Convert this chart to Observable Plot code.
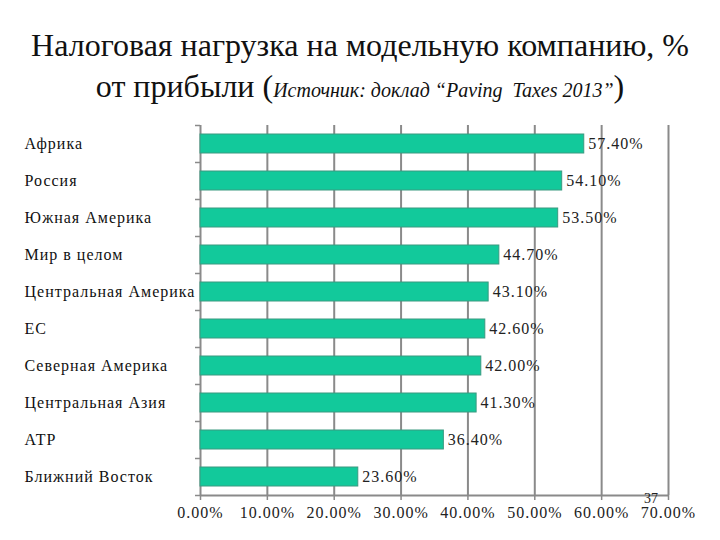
<!DOCTYPE html>
<html><head><meta charset="utf-8">
<script src="https://cdn.jsdelivr.net/npm/d3@7"></script>
<script src="https://cdn.jsdelivr.net/npm/@observablehq/plot@0.6"></script>
<style>
body{margin:0;background:#fff;width:720px;height:540px;overflow:hidden;position:relative;font-family:"Liberation Serif",serif;}
#title{height:110px;overflow:visible;box-sizing:border-box;padding-top:25px;text-align:center;color:#111;font-size:32px;line-height:41px;}
#title i{font-size:20px;}
#chart svg{display:block;}
#chart svg text{font-family:"Liberation Serif",serif;letter-spacing:1px;}
#num{position:absolute;left:644px;top:491px;font-size:14px;color:#222;}
</style></head>
<body>
<div id="title">Налоговая нагрузка на модельную компанию, %<br>от прибыли (<i>Источник: доклад “Paving&nbsp; Taxes 2013”</i>)</div>
<div id="chart"></div>
<div id="num">37</div>
<script>
const regions = ["Африка","Россия","Южная Америка","Мир в целом","Центральная Америка","ЕС","Северная Америка","Центральная Азия","АТР","Ближний Восток"];
const values = [57.4,54.1,53.5,44.7,43.1,42.6,42.0,41.3,36.4,23.6];
const xTicks = [0,10,20,30,40,50,60,70];
const data = regions.map((r,i)=>({region:r, value:values[i]}));
const last = regions[regions.length-1];
const font = "Liberation Serif";
const grid = "#8a8a8a";
const chart = Plot.plot({
  width:720, height:430,
  marginTop:15, marginBottom:45, marginLeft:200, marginRight:52,
  style:{fontFamily:font, fontSize:"16px", color:"#222", background:"white"},
  x:{domain:[0,70]},
  y:{domain:regions, paddingInner:0.5, paddingOuter:0.25},
  marks:[
    Plot.ruleX(xTicks.slice(1), {stroke:grid, strokeWidth:2}),
    Plot.ruleX([0], {stroke:grid, strokeWidth:2}),
    Plot.ruleY([last], {x1:0, x2:70, dy:18.5, stroke:grid, strokeWidth:2}),
    Plot.barX(data, {y:"region", x:"value", fill:"#12c99b", stroke:"#3a9a80", strokeWidth:1}),
    Plot.text(data, {y:"region", x:"value", text:d=>d.value.toFixed(2)+"%", textAnchor:"start", dx:4, fontSize:16, fill:"#222"}),
    Plot.axisY({tickSize:0, tickPadding:0, textAnchor:"start", dx:-176, fontSize:16, fill:"#111", label:null}),
    Plot.axisY({tickSize:5, tickFormat:()=>"", dy:-18.5, stroke:grid, strokeWidth:1.5, label:null}),
    Plot.axisY([last], {tickSize:5, tickFormat:()=>"", dy:18.5, stroke:grid, strokeWidth:1.5, label:null}),
    Plot.axisX(xTicks, {tickSize:5, tickPadding:6, tickFormat:d=>d.toFixed(2)+"%", stroke:grid, strokeWidth:1.5, fill:"#222", fontSize:16, label:null})
  ]
});
document.getElementById("chart").appendChild(chart);
</script>
</body></html>
